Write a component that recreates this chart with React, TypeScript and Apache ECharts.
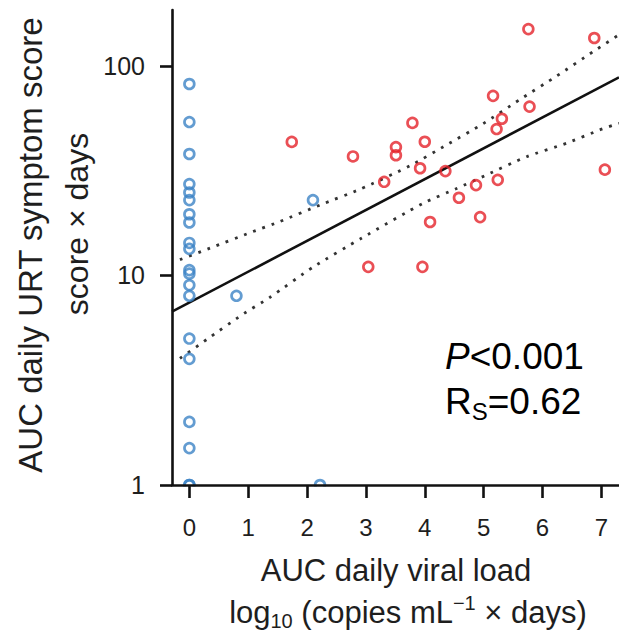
import React, { useEffect, useRef } from "react";
import * as echarts from "echarts";

// Blue group (viral load AUC = 0 or low)
const blueX = [0, 0, 0, 0, 0, 0, 0, 0, 0, 0, 0, 0, 0, 0, 0, 0, 0, 0, 0, 0, 0.8, 2.1, 2.22];
const blueY = [82, 54, 38, 27.3, 24.9, 22.9, 19.6, 17.9, 14.3, 13.4, 10.6, 10.2, 9.0, 8.0, 5.0, 4.0, 2.0, 1.5, 1.0, 1.0, 8.0, 22.9, 1.0];

// Red group
const redX = [1.74, 2.78, 3.04, 3.31, 3.51, 3.51, 3.79, 3.92, 3.96, 4.0, 4.09, 4.35, 4.58, 4.87, 4.94, 5.16, 5.22, 5.24, 5.31, 5.76, 5.78, 6.88, 7.06];
const redY = [43.4, 37, 11, 28, 41, 37.5, 53.5, 32.5, 11, 43.5, 18, 31.5, 23.5, 27, 19, 72, 50, 28.6, 56, 150, 64, 136, 32];

// Regression fit and confidence band
const fitX = [-0.295, 7.3];
const fitY = [6.72, 88.3];
const upperX = [-0.16, 0.35, 1.03, 1.54, 2.22, 2.9, 3.75, 4.37, 4.99, 5.61, 6.24, 6.86, 7.3];
const upperY = [11.9, 13.5, 16.0, 18.1, 21.7, 25.8, 33.4, 42, 53, 69, 89.5, 117, 141];
const lowerX = [-0.16, 0.3, 0.89, 1.37, 2.11, 2.93, 3.97, 4.54, 5.05, 5.73, 6.41, 6.97, 7.3];
const lowerY = [4.02, 4.96, 6.48, 7.87, 11.0, 15.1, 22.1, 26, 30.2, 36.9, 42.8, 49.5, 53.3];

const xTicks = [0, 1, 2, 3, 4, 5, 6, 7];
const yTicks = [1, 10, 100];

const zip = (xs: number[], ys: number[]) => xs.map((x, i) => [x, ys[i]]);

const SANS = "Liberation Sans, Arial, sans-serif";
const INK = "#1e1e1e";

export default function App() {
  const ref = useRef<HTMLDivElement>(null);
  useEffect(() => {
    if (!ref.current) return;
    const chart = echarts.init(ref.current, undefined, { renderer: "svg" });
    const dotted = { color: "#333", width: 2.8, type: [2.8, 7] as number[], cap: "butt" as const };
    chart.setOption({
      animation: false,
      backgroundColor: "#fff",
      grid: { left: 172, top: 10, right: 0, bottom: 155, containLabel: false },
      xAxis: {
        type: "value",
        min: -0.295,
        max: 7.3,
        z: 8,
        splitLine: { show: false },
        axisLine: { show: true, onZero: false, lineStyle: { color: "#111", width: 2.6 } },
        axisTick: { show: true, customValues: xTicks, length: 13, lineStyle: { color: "#111", width: 2.6 } },
        axisLabel: { customValues: xTicks, fontSize: 24, fontFamily: SANS, color: INK, margin: 30 },
      },
      yAxis: {
        type: "log",
        logBase: 10,
        min: 1,
        max: 185,
        z: 8,
        splitLine: { show: false },
        axisLine: { show: true, onZero: false, lineStyle: { color: "#111", width: 2.6 } },
        axisTick: { show: true, customValues: yTicks, length: 12, lineStyle: { color: "#111", width: 2.6 } },
        axisLabel: { customValues: yTicks, fontSize: 25, fontFamily: SANS, color: INK, margin: 27 },
        minorTick: { show: false },
      },
      series: [
        {
          type: "line",
          data: zip(fitX, fitY),
          symbol: "none",
          lineStyle: { color: "#111", width: 2.6 },
          z: 3,
        },
        {
          type: "line",
          data: zip(upperX, upperY),
          symbol: "none",
          smooth: 0.2,
          lineStyle: dotted,
          z: 3,
        },
        {
          type: "line",
          data: zip(lowerX, lowerY),
          symbol: "none",
          smooth: 0.2,
          lineStyle: dotted,
          z: 3,
        },
        {
          type: "scatter",
          data: zip(blueX, blueY),
          symbol: "circle",
          symbolSize: 9.8,
          itemStyle: { color: "rgba(0,0,0,0)", borderColor: "#3c83c5", borderWidth: 2.7 },
          z: 4,
        },
        {
          type: "scatter",
          data: zip(redX, redY),
          symbol: "circle",
          symbolSize: 9.8,
          itemStyle: { color: "rgba(0,0,0,0)", borderColor: "#e5232b", borderWidth: 2.7 },
          z: 4,
        },
      ],
      graphic: {
        z: 6,
        elements: [
          {
            type: "rect",
            z: 6,
            shape: { x: 173.5, y: 486.5, width: 446, height: 14 },
            style: { fill: "#fff" },
          },
          {
            type: "text",
            x: 30,
            y: 245,
            rotation: Math.PI / 2,
            style: {
              text: "AUC daily URT symptom score",
              fontSize: 33,
              fontFamily: SANS,
              fill: INK,
              align: "center",
              verticalAlign: "middle",
            },
          },
          {
            type: "text",
            x: 77,
            y: 224,
            rotation: Math.PI / 2,
            style: {
              text: "score × days",
              fontSize: 32,
              fontFamily: SANS,
              fill: INK,
              align: "center",
              verticalAlign: "middle",
            },
          },
          {
            type: "text",
            x: 396,
            y: 570,
            style: {
              text: "AUC daily viral load",
              fontSize: 31,
              fontFamily: SANS,
              fill: INK,
              align: "center",
              verticalAlign: "middle",
            },
          },
          {
            type: "text",
            x: 408,
            y: 612,
            style: {
              text: "{m|log}{sub|10}{m| (copies mL}{sup|−1}{m| × days)}",
              align: "center",
              verticalAlign: "middle",
              rich: {
                m: { fontSize: 31, lineHeight: 38, fontFamily: SANS, fill: INK, color: INK },
                sub: { fontSize: 20, lineHeight: 20, fontFamily: SANS, fill: INK, color: INK, verticalAlign: "bottom" },
                sup: { fontSize: 20, lineHeight: 20, fontFamily: SANS, fill: INK, color: INK, verticalAlign: "top" },
              },
            },
          },
          {
            type: "text",
            x: 445,
            y: 356,
            style: {
              text: "{i|P}{m|<0.001}",
              align: "left",
              verticalAlign: "middle",
              rich: {
                i: { fontSize: 37, lineHeight: 40, fontFamily: SANS, fontStyle: "italic", fill: "#000", color: "#000" },
                m: { fontSize: 37, lineHeight: 40, fontFamily: SANS, fill: "#000", color: "#000" },
              },
            },
          },
          {
            type: "text",
            x: 445,
            y: 401,
            style: {
              text: "{m|R}{s|S}{m|=0.62}",
              align: "left",
              verticalAlign: "middle",
              rich: {
                m: { fontSize: 37, lineHeight: 44, fontFamily: SANS, fill: "#000", color: "#000" },
                s: { fontSize: 24, lineHeight: 24, fontFamily: SANS, fill: "#000", color: "#000", verticalAlign: "bottom" },
              },
            },
          },
        ],
      },
    });
    return () => chart.dispose();
  }, []);
  return (
    <div
      ref={ref}
      style={{ position: "fixed", left: 0, top: 0, width: 619, height: 640, background: "#fff" }}
    />
  );
}
